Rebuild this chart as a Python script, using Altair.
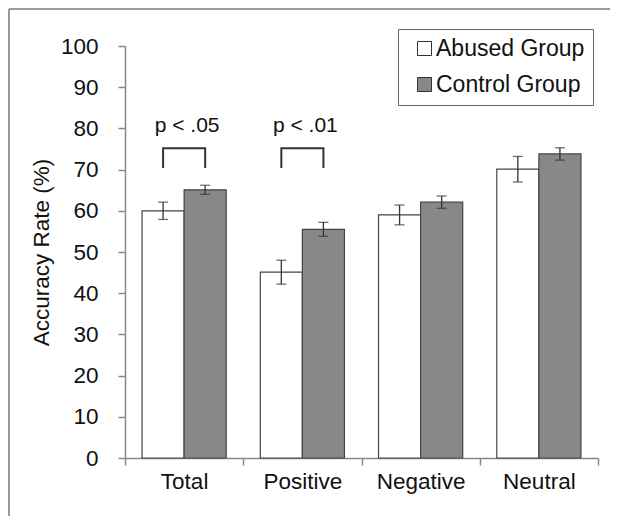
import altair as alt
import pandas as pd

categories = ["Total", "Positive", "Negative", "Neutral"]
groups = ["Abused Group", "Control Group"]
abused_vals = [60.0, 45.1, 59.0, 70.1]
control_vals = [65.1, 55.5, 62.1, 73.8]
abused_err = [2.1, 2.9, 2.4, 3.1]
control_err = [1.1, 1.7, 1.5, 1.5]

sig_cats = ["Total", "Positive"]
sig_labels = ["p < .05", "p < .01"]
bracket_low = 70.4
bracket_high = 75.2
sig_text_y = 80.6

FONT = "Liberation Sans"

rows = []
for i, c in enumerate(categories):
    rows.append({"category": c, "group": groups[0], "value": abused_vals[i],
                 "lo": abused_vals[i] - abused_err[i], "hi": abused_vals[i] + abused_err[i]})
    rows.append({"category": c, "group": groups[1], "value": control_vals[i],
                 "lo": control_vals[i] - control_err[i], "hi": control_vals[i] + control_err[i]})
df = pd.DataFrame(rows)

brows = []
for c in sig_cats:
    brows += [
        {"category": c, "group": groups[0], "y": bracket_low, "ord": 0},
        {"category": c, "group": groups[0], "y": bracket_high, "ord": 1},
        {"category": c, "group": groups[1], "y": bracket_high, "ord": 2},
        {"category": c, "group": groups[1], "y": bracket_low, "ord": 3},
    ]
bdf = pd.DataFrame(brows)
tdf = pd.DataFrame({"category": sig_cats, "label": sig_labels, "y": [sig_text_y] * len(sig_cats)})

x_enc = alt.X("category:N", sort=categories,
              scale=alt.Scale(paddingInner=0, paddingOuter=0),
              axis=alt.Axis(title=None, labelAngle=0, labelFontSize=22.5, labelFont=FONT,
                            labelColor="#111", tickBand="extent", tickSize=7,
                            tickColor="#888", domainColor="#888", domainWidth=1.5,
                            tickWidth=1.5, labelPadding=5))
xoff = alt.XOffset("group:N", sort=groups,
                   scale=alt.Scale(paddingOuter=0.405, paddingInner=0))
y_scale = alt.Scale(domain=[0, 100], nice=False)

bars = alt.Chart(df).mark_bar(stroke="#444", strokeWidth=1.2).encode(
    x=x_enc,
    xOffset=xoff,
    y=alt.Y("value:Q", scale=y_scale,
            axis=alt.Axis(title="Accuracy Rate (%)", values=list(range(0, 101, 10)),
                          grid=False, tickSize=7, tickColor="#888", tickWidth=1.5,
                          domainColor="#888", domainWidth=1.5,
                          labelFontSize=22.5, labelFont=FONT, labelColor="#111",
                          labelPadding=20, titleFontSize=22.5, titleFont=FONT,
                          titleFontWeight="normal", titleColor="#111", titlePadding=7)),
    fill=alt.Fill("group:N", sort=groups,
                  scale=alt.Scale(domain=groups, range=["#ffffff", "#888888"]),
                  legend=alt.Legend(title=None, orient="none", legendX=273, legendY=-17,
                                    strokeColor="#666", fillColor="#ffffff", padding=8,
                                    symbolType="square", symbolSize=196, symbolOffset=7,
                                    symbolStrokeColor="#333", symbolStrokeWidth=1,
                                    labelFontSize=23, labelFont=FONT, labelColor="#111",
                                    labelOffset=0, rowPadding=12)),
)

err = alt.Chart(df).mark_rule(color="#333", strokeWidth=1.3).encode(
    x=alt.X("category:N", sort=categories), xOffset=xoff,
    y=alt.Y("lo:Q", scale=y_scale), y2="hi:Q")
cap_lo = alt.Chart(df).mark_tick(color="#333", thickness=1.3, size=10).encode(
    x=alt.X("category:N", sort=categories), xOffset=xoff, y=alt.Y("lo:Q", scale=y_scale))
cap_hi = alt.Chart(df).mark_tick(color="#333", thickness=1.3, size=10).encode(
    x=alt.X("category:N", sort=categories), xOffset=xoff, y=alt.Y("hi:Q", scale=y_scale))

brackets = alt.Chart(bdf).mark_line(color="#333", strokeWidth=2).encode(
    x=alt.X("category:N", sort=categories), xOffset=xoff,
    y=alt.Y("y:Q", scale=y_scale), detail="category:N", order="ord:Q")

texts = alt.Chart(tdf).mark_text(fontSize=21, font=FONT, color="#111", dx=3).encode(
    x=alt.X("category:N", sort=categories), y=alt.Y("y:Q", scale=y_scale), text="label:N")

one = pd.DataFrame({"a": [0]})
frame_left = alt.Chart(one).mark_rule(color="#999", strokeWidth=2).encode(
    x=alt.value(-116), y=alt.value(-37), y2=alt.value(470))
frame_top = alt.Chart(one).mark_rule(color="#999", strokeWidth=2).encode(
    y=alt.value(-37), x=alt.value(-116), x2=alt.value(485))

chart = alt.layer(frame_left, frame_top, bars, err, cap_lo, cap_hi, brackets, texts).properties(
    width=473, height=412,
    autosize=alt.AutoSizeParams(type="none"),
    padding={"left": 117, "top": 38, "right": 19, "bottom": 58},
).configure_view(stroke=None)

chart.save("out.html", embed_options={"renderer": "svg", "actions": False})
